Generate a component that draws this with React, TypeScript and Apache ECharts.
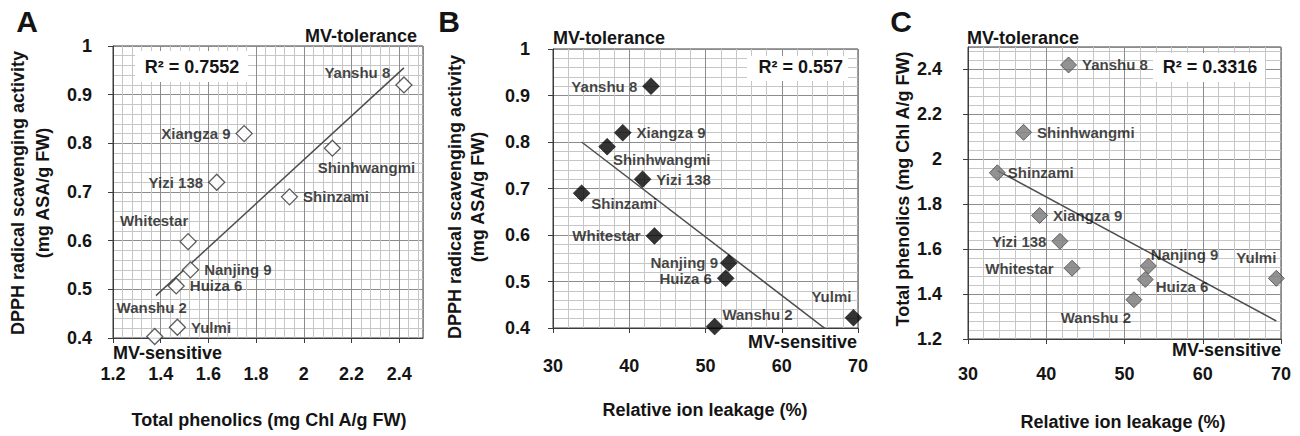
import React, { useEffect, useRef } from "react";
import * as echarts from "echarts";

// ---- data ----
const cultivars = ["Yanshu 8", "Xiangza 9", "Shinhwangmi", "Yizi 138", "Shinzami", "Whitestar", "Nanjing 9", "Huiza 6", "Wanshu 2", "Yulmi"];
const totalPhenolics = [2.42, 1.75, 2.12, 1.635, 1.94, 1.515, 1.525, 1.465, 1.375, 1.47];
const dpphActivity = [0.92, 0.82, 0.79, 0.72, 0.69, 0.598, 0.54, 0.507, 0.403, 0.422];
const ionLeakage = [42.85, 39.15, 37.1, 41.75, 33.75, 43.3, 53.05, 52.65, 51.2, 69.4];

const trendA = [[1.38, 0.487], [2.42, 0.955]];
const trendB = [[33.75, 0.8], [69.4, 0.352]];
const trendC = [[33.75, 1.95], [69.4, 1.28]];

const r2A = "R\u00B2 = 0.7552";
const r2B = "R\u00B2 = 0.557";
const r2C = "R\u00B2 = 0.3316";

// ---- label placement (style) ----
type LP = { position: string; offset?: number[] };
const labelsA: Record<string, LP> = {
  "Yanshu 8": { position: "left", offset: [0, -12] },
  "Xiangza 9": { position: "left" },
  Shinhwangmi: { position: "bottom", offset: [34, -2] },
  "Yizi 138": { position: "left" },
  Shinzami: { position: "right" },
  Whitestar: { position: "top", offset: [-34, 0] },
  "Nanjing 9": { position: "right" },
  "Huiza 6": { position: "right" },
  "Wanshu 2": { position: "top", offset: [-3, -8] },
  Yulmi: { position: "right" },
};
const labelsB: Record<string, LP> = {
  "Yanshu 8": { position: "left" },
  "Xiangza 9": { position: "right" },
  Shinhwangmi: { position: "right", offset: [-8, 13] },
  "Yizi 138": { position: "right" },
  Shinzami: { position: "right", offset: [-4, 10] },
  Whitestar: { position: "left" },
  "Nanjing 9": { position: "left", offset: [3, 0] },
  "Huiza 6": { position: "left" },
  "Wanshu 2": { position: "right", offset: [-6, -12] },
  Yulmi: { position: "top", offset: [-22, 0] },
};
const labelsC: Record<string, LP> = {
  "Yanshu 8": { position: "right" },
  "Xiangza 9": { position: "right" },
  Shinhwangmi: { position: "right" },
  "Yizi 138": { position: "left" },
  Shinzami: { position: "right", offset: [-3, 0] },
  Whitestar: { position: "left", offset: [-5, 0] },
  "Nanjing 9": { position: "right", offset: [-11, -12] },
  "Huiza 6": { position: "right", offset: [-3, 7] },
  "Wanshu 2": { position: "bottom", offset: [-38, -3] },
  Yulmi: { position: "top", offset: [-20, 0] },
};

const FONT = '"Liberation Sans", Arial, Helvetica, sans-serif';
const TXT = "#141414";

function makeAxis(gridIndex: number, min: number, max: number, interval: number, margin: number, hideMax: boolean) {
  return {
    type: "value",
    gridIndex,
    min,
    max,
    interval,
    axisLine: { show: true, onZero: false, lineStyle: { color: "#3c3c3c", width: 1 } },
    axisTick: { show: true, inside: false, length: 5, lineStyle: { color: "#3c3c3c" } },
    axisLabel: {
      fontFamily: FONT,
      fontWeight: "bold",
      fontSize: 18,
      color: TXT,
      margin,
      showMaxLabel: hideMax ? false : true,
      showMinLabel: true,
    },
    splitLine: { show: true, lineStyle: { color: "#8c8c8c", width: 1 } },
    minorTick: { show: false, splitNumber: 5 },
    minorSplitLine: { show: true, lineStyle: { color: "#c6c6c6", width: 1 } },
  };
}

function scatterData(xs: number[], ys: number[], lp: Record<string, LP>) {
  return cultivars.map((name, i) => ({
    name,
    value: [xs[i], ys[i]],
    label: { position: lp[name].position, offset: lp[name].offset || [0, 0] },
  }));
}

const labelStyle = {
  show: true,
  formatter: "{b}",
  fontFamily: FONT,
  fontWeight: "bold",
  fontSize: 15,
  color: TXT,
  distance: 5,
};

function txt(x: number, y: number, text: string, size: number, align: string, extra: any = {}) {
  return {
    type: "text",
    x,
    y,
    z: 100,
    style: {
      text,
      fontFamily: FONT,
      fontWeight: "bold",
      fontSize: size,
      fill: TXT,
      align,
      verticalAlign: "middle",
      ...(extra.style || {}),
    },
    ...(extra.props || {}),
  };
}

export default function App() {
  const ref = useRef<HTMLDivElement>(null);
  useEffect(() => {
    if (!ref.current) return;
    const chart = echarts.init(ref.current, null, { renderer: "svg" });
    const option: any = {
      animation: false,
      backgroundColor: "#ffffff",
      grid: [
        { left: 113, top: 46, width: 310, height: 292, show: true, borderColor: "#3c3c3c", borderWidth: 1, containLabel: false },
        { left: 553, top: 49, width: 305, height: 279, show: true, borderColor: "#3c3c3c", borderWidth: 1, containLabel: false },
        { left: 968, top: 47, width: 313, height: 292, show: true, borderColor: "#3c3c3c", borderWidth: 1, containLabel: false },
      ],
      xAxis: [
        makeAxis(0, 1.2, 2.5, 0.2, 27, true),
        makeAxis(1, 30, 70, 10, 29, false),
        makeAxis(2, 30, 70, 10, 26, false),
      ],
      yAxis: [
        makeAxis(0, 0.4, 1, 0.1, 21, false),
        makeAxis(1, 0.4, 1, 0.1, 23, false),
        makeAxis(2, 1.2, 2.5, 0.2, 26, true),
      ],
      series: [
        {
          type: "line",
          xAxisIndex: 0,
          yAxisIndex: 0,
          data: trendA,
          showSymbol: false,
          symbol: "none",
          lineStyle: { color: "#4d4d4d", width: 1.5 },
          clip: true,
          z: 3,
        },
        {
          type: "line",
          xAxisIndex: 1,
          yAxisIndex: 1,
          data: trendB,
          showSymbol: false,
          symbol: "none",
          lineStyle: { color: "#4d4d4d", width: 1.5 },
          clip: true,
          z: 3,
        },
        {
          type: "line",
          xAxisIndex: 2,
          yAxisIndex: 2,
          data: trendC,
          showSymbol: false,
          symbol: "none",
          lineStyle: { color: "#4d4d4d", width: 1.5 },
          clip: true,
          z: 3,
        },
        {
          type: "scatter",
          xAxisIndex: 0,
          yAxisIndex: 0,
          symbol: "diamond",
          symbolSize: 16,
          itemStyle: { color: "#ffffff", borderColor: "#333333", borderWidth: 1.3 },
          label: labelStyle,
          data: scatterData(totalPhenolics, dpphActivity, labelsA),
          z: 5,
        },
        {
          type: "scatter",
          xAxisIndex: 1,
          yAxisIndex: 1,
          symbol: "diamond",
          symbolSize: 17,
          itemStyle: { color: "#000000", borderColor: "#000000", borderWidth: 0.5 },
          label: labelStyle,
          data: scatterData(ionLeakage, dpphActivity, labelsB),
          clip: false,
          z: 5,
        },
        {
          type: "scatter",
          xAxisIndex: 2,
          yAxisIndex: 2,
          symbol: "diamond",
          symbolSize: 16,
          itemStyle: { color: "#777777", borderColor: "#4a4a4a", borderWidth: 1 },
          label: labelStyle,
          data: scatterData(ionLeakage, totalPhenolics, labelsC),
          clip: false,
          z: 5,
        },
      ],
      graphic: [
        // panel letters
        txt(27, 21, "A", 30, "center"),
        txt(449, 21, "B", 30, "center"),
        txt(901, 21, "C", 30, "center"),
        // R² boxes
        { type: "rect", z: 90, shape: { x: 135, y: 51, width: 113, height: 31 }, style: { fill: "#ffffff" } },
        txt(192, 67, r2A, 18, "center"),
        { type: "rect", z: 90, shape: { x: 747, y: 56, width: 101, height: 25 }, style: { fill: "#ffffff" } },
        txt(843, 67, r2B, 18, "right"),
        { type: "rect", z: 90, shape: { x: 1153, y: 53, width: 112, height: 29 }, style: { fill: "#ffffff" } },
        txt(1210, 67, r2C, 18, "center"),
        // MV labels
        txt(417, 36, "MV-tolerance", 18, "right"),
        txt(113, 353, "MV-sensitive", 18, "left"),
        txt(553, 38, "MV-tolerance", 18, "left"),
        txt(857, 342, "MV-sensitive", 18, "right"),
        txt(967, 38, "MV-tolerance", 18, "left"),
        txt(1281, 350, "MV-sensitive", 18, "right"),
        // axis titles
        txt(269, 420, "Total phenolics (mg Chl A/g FW)", 18, "center"),
        txt(705, 410, "Relative ion leakage (%)", 18, "center"),
        txt(1123, 422, "Relative ion leakage (%)", 18, "center"),
        txt(30.5, 193, "DPPH radical scavenging activity\n(mg ASA/g FW)", 18, "center", {
          props: { rotation: Math.PI / 2 },
          style: { lineHeight: 25 },
        }),
        txt(466.5, 197, "DPPH radical scavenging activity\n(mg ASA/g FW)", 18, "center", {
          props: { rotation: Math.PI / 2 },
          style: { lineHeight: 23 },
        }),
        txt(903, 189, "Total phenolics (mg Chl A/g FW)", 18, "center", {
          props: { rotation: Math.PI / 2 },
        }),
      ],
    };
    chart.setOption(option);
    return () => chart.dispose();
  }, []);
  return (
    <div
      ref={ref}
      style={{ position: "fixed", left: 0, top: 0, width: 1300, height: 436, background: "#fff" }}
    />
  );
}
